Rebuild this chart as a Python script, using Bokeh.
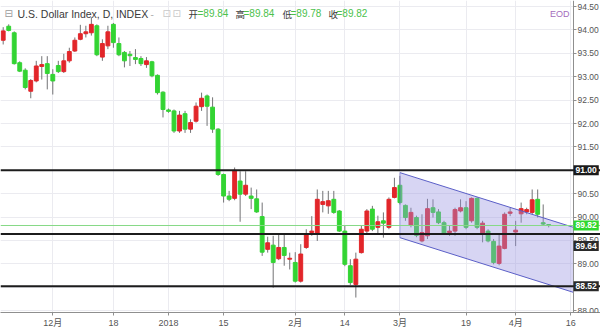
from bokeh.plotting import figure
from bokeh.models import (ColumnDataSource, FixedTicker, NumeralTickFormatter,
                          Span, Label, Range1d, LinearAxis, BoxAnnotation)
from bokeh.embed import file_html
from bokeh.resources import INLINE

# Daily bars of the U.S. Dollar Index (one entry per trading day)
opens = [93.78, 94.08, 93.94, 93.30, 93.14, 92.69, 92.91, 93.22, 93.28, 93.05,
         93.24, 93.11, 93.34, 93.55, 93.80, 93.92, 93.94, 94.09, 93.42, 93.66,
         94.12, 93.71, 93.52, 93.48, 93.41, 93.39, 93.26, 93.32, 93.03, 92.67,
         92.29, 92.27, 91.84, 92.21, 91.88, 92.05, 92.36, 92.59, 92.35, 91.88,
         90.91, 90.45, 90.40, 90.77, 90.49, 90.45, 90.39, 90.01, 89.31, 89.40,
         89.11, 89.35, 89.10, 89.03, 88.63, 89.35, 89.67, 89.63, 90.27, 90.24,
         90.38, 90.13, 89.70, 88.96, 88.56, 89.24, 89.70, 90.17, 89.78, 89.92,
         89.78, 90.42, 90.68, 90.25, 89.82, 89.99, 89.49, 89.60, 90.20, 90.11,
         89.88, 89.67, 89.70, 90.13, 90.20, 89.92, 90.40, 89.65, 89.70, 89.48,
         89.01, 89.33, 90.08, 89.68, 90.07, 90.11, 90.10, 90.38, 89.88, 89.84]
highs = [94.06, 94.12, 93.97, 93.33, 93.18, 92.95, 93.34, 93.44, 93.44, 93.16,
         93.34, 93.49, 93.62, 93.84, 94.11, 94.09, 94.27, 94.12, 93.80, 94.09,
         94.15, 93.84, 93.55, 93.55, 93.59, 93.44, 93.42, 93.34, 93.05, 92.69,
         92.32, 92.30, 92.27, 92.27, 92.09, 92.45, 92.66, 92.62, 92.56, 91.90,
         90.93, 90.56, 91.06, 90.98, 90.98, 90.63, 90.59, 90.31, 89.58, 89.60,
         89.63, 89.63, 89.24, 89.25, 89.42, 89.74, 90.02, 90.59, 90.56, 90.56,
         90.56, 90.15, 89.81, 89.10, 89.24, 89.81, 90.17, 90.24, 90.03, 90.10,
         90.42, 90.84, 90.88, 90.27, 90.20, 90.03, 90.06, 90.39, 90.38, 90.17,
         89.92, 89.81, 90.20, 90.38, 90.34, 90.42, 90.42, 89.92, 89.74, 89.53,
         89.63, 90.10, 90.20, 89.92, 90.31, 90.20, 90.59, 90.59, 90.27, 89.84]
lows = [93.69, 93.97, 93.26, 93.10, 92.73, 92.54, 92.88, 92.94, 92.73, 92.62,
        93.08, 93.08, 93.30, 93.53, 93.78, 93.84, 93.88, 93.44, 93.34, 93.59,
        93.62, 93.44, 93.20, 93.23, 93.27, 93.23, 93.19, 92.99, 92.62, 92.13,
        92.23, 91.80, 91.80, 91.80, 91.80, 92.02, 92.27, 91.95, 91.80, 90.88,
        90.31, 90.34, 90.36, 89.90, 90.45, 90.17, 90.09, 89.17, 89.24, 88.49,
        89.08, 88.96, 88.88, 88.60, 88.60, 89.32, 89.60, 89.49, 90.10, 90.07,
        90.07, 89.68, 88.95, 88.55, 88.28, 89.22, 89.63, 89.70, 89.63, 89.56,
        89.74, 90.40, 90.27, 89.92, 89.78, 89.57, 89.46, 89.53, 89.99, 89.85,
        89.63, 89.60, 89.60, 90.10, 89.74, 89.88, 89.74, 89.46, 89.46, 88.99,
        88.97, 89.31, 90.02, 89.38, 89.88, 90.06, 90.06, 89.99, 89.81, 89.78]
closes = [93.98, 93.99, 93.28, 93.12, 92.77, 92.92, 93.23, 93.26, 93.07, 92.91,
          93.11, 93.34, 93.54, 93.78, 93.92, 93.96, 94.12, 93.47, 93.71, 93.96,
          93.73, 93.47, 93.34, 93.45, 93.37, 93.28, 93.34, 93.02, 92.66, 92.30,
          92.26, 91.84, 92.18, 91.88, 92.02, 92.37, 92.54, 92.37, 91.88, 90.91,
          90.45, 90.38, 91.00, 90.49, 90.68, 90.40, 90.11, 89.25, 89.45, 89.03,
          89.35, 89.18, 89.12, 88.63, 89.21, 89.63, 89.70, 90.38, 90.33, 90.35,
          90.10, 89.70, 88.99, 88.60, 89.10, 89.74, 90.13, 89.74, 89.90, 89.87,
          90.38, 90.63, 90.31, 89.99, 90.10, 89.61, 89.67, 90.18, 90.10, 89.88,
          89.65, 89.70, 90.16, 90.20, 89.78, 90.40, 89.78, 89.87, 89.49, 89.03,
          89.38, 90.06, 90.11, 89.72, 90.18, 90.16, 90.37, 90.06, 89.85, 89.82]

# Date axis: bar positions that carry a label
x_tick_pos = [9, 20, 30, 40, 53, 62, 72, 84, 93, 103]
x_tick_labels = ["12月", "18", "2018", "15", "2月", "14", "3月", "19", "4月", "16"]

# Price axis
y_ticks = [88.0, 88.5, 89.0, 89.5, 90.0, 90.5, 91.0, 91.5, 92.0, 92.5, 93.0,
           93.5, 94.0, 94.5]

# Horizontal support / resistance levels
levels = [91.00, 89.64, 88.52]

# Descending channel drawn from March onwards (bar position, upper, lower)
channel_x = [72.0, 103.5]
channel_upper = [90.95, 89.78]
channel_lower = [89.56, 88.39]

UP = "#e2262a"
DOWN = "#33d433"
WICK = "#737375"

X_START, X_END = -0.49, 108.4
AXIS_X = 103.5          # bar position where the price scale sits

n = len(opens)
src = ColumnDataSource(dict(
    x=list(range(n)), o=opens, h=highs, l=lows, c=closes,
    top=[max(o, c) for o, c in zip(opens, closes)],
    bottom=[min(o, c) for o, c in zip(opens, closes)],
    color=[UP if c >= o else DOWN for o, c in zip(opens, closes)],
))

p = figure(width=600, height=330,
           x_range=Range1d(X_START, X_END), y_range=Range1d(87.96, 94.63),
           y_axis_location=None, output_backend="svg", toolbar_location=None,
           min_border_left=0, min_border_top=0, min_border_right=0,
           min_border_bottom=0, outline_line_color=None,
           background_fill_color="white", border_fill_color="white")

# grid
p.xgrid.ticker = FixedTicker(ticks=x_tick_pos)
p.ygrid.ticker = FixedTicker(ticks=y_ticks)
p.grid.grid_line_color = "#ebebf0"
p.grid.grid_line_width = 1
# keep the price-scale strip clean
p.add_layout(BoxAnnotation(left=AXIS_X, fill_color="white", fill_alpha=1,
                           line_color=None, level="underlay"))

# price scale drawn at the right edge of the bars area
yaxis = LinearAxis(fixed_location=AXIS_X, ticker=FixedTicker(ticks=y_ticks),
                   formatter=NumeralTickFormatter(format="0.00"))
p.add_layout(yaxis, "right")

p.xaxis.ticker = FixedTicker(ticks=x_tick_pos)
p.xaxis.major_label_overrides = {k: v for k, v in zip(x_tick_pos, x_tick_labels)}
for ax in (p.xaxis[0], yaxis):
    ax.axis_line_color = "#8f8f8f"
    ax.major_tick_line_color = "#8f8f8f"
    ax.major_tick_out = 3
    ax.major_tick_in = 0
    ax.minor_tick_line_color = None
    ax.major_label_text_color = "#555555"
    ax.major_label_text_font = "Liberation Sans, Noto Sans CJK SC"
p.xaxis.major_label_text_font_size = "9px"
p.xaxis.major_label_standoff = 2
yaxis.major_label_text_font_size = "8.5px"
yaxis.major_label_standoff = 1

# candles
p.segment(x0="x", y0="l", x1="x", y1="h", source=src, line_color=WICK, line_width=1)
p.vbar(x="x", width=0.7, top="top", bottom="bottom", source=src,
       fill_color="color", line_color="color", line_width=1)

# last price line
p.add_layout(Span(location=closes[-1], dimension="width", line_color="#86d986",
                  line_width=1))

# level lines
for lv in levels:
    p.add_layout(Span(location=lv, dimension="width", line_color="#1c1c1c",
                      line_width=2))

# channel
p.patch(x=channel_x + channel_x[::-1], y=channel_upper + channel_lower[::-1],
        fill_color="#9c96e0", fill_alpha=0.4, line_color=None)
p.line(x=channel_x, y=channel_upper, line_color="#5b5fc7", line_width=1)
p.line(x=channel_x, y=channel_lower, line_color="#5b5fc7", line_width=1)
p.line(x=[channel_x[0], channel_x[0]], y=[channel_upper[0], channel_lower[0]],
       line_color="#5b5fc7", line_width=1, line_alpha=0.5)

# price tags on the scale
tags = [(levels[0], "#1a1a1a", 0),
        (closes[-1], "#2fd82f", 0),
        (levels[1], "#2a2a2a", -12),
        (levels[2], "#2a2a2a", 0)]
for val, bg, dy in tags:
    p.add_layout(Label(x=AXIS_X, y=val, x_offset=0, y_offset=dy, text=f"{val:.2f}",
                       text_font_size="8.5px", text_font="Liberation Sans",
                       text_color="white", text_font_style="bold",
                       text_align="left", text_baseline="middle",
                       background_fill_color=bg, padding=2))

# header line
H = 314 - 15
LAB = "#3a3a3a"
GREEN = "#4cc14c"
head = [
    (4, "⊟", "#9a9a9a", "DejaVu Sans", "10px"),
    (17, "U.S. Dollar Index, D, INDEX", LAB, "Liberation Sans", "10.5px"),
    (150, "-", "#b0b0b0", "Liberation Sans", "10px"),
    (162, "⊡", "#c8c8c8", "DejaVu Sans", "10px"),
    (172, "⊡", "#c8c8c8", "DejaVu Sans", "10px"),
    (188, "开", LAB, "Noto Sans CJK SC", "9.5px"),
    (197, f"={opens[-1]:.2f}", GREEN, "Liberation Sans", "10px"),
    (235, "高", LAB, "Noto Sans CJK SC", "9.5px"),
    (243, f"={highs[-1]:.2f}", GREEN, "Liberation Sans", "10px"),
    (282, "低", LAB, "Noto Sans CJK SC", "9.5px"),
    (290, f"={lows[-1]:.2f}", GREEN, "Liberation Sans", "10px"),
    (328, "收", LAB, "Noto Sans CJK SC", "9.5px"),
    (336, f"={closes[-1]:.2f}", GREEN, "Liberation Sans", "10px"),
]
for x, t, col, font, size in head:
    p.add_layout(Label(x=x, y=H, x_units="screen", y_units="screen", text=t,
                       text_color=col, text_font=font, text_font_size=size,
                       text_baseline="middle", text_align="left"))
p.add_layout(Label(x=569, y=H, x_units="screen", y_units="screen", text="EOD",
                   text_color="#a46cbc", text_font="Liberation Sans",
                   text_font_size="9px", text_baseline="middle", text_align="right"))

open("out.html", "w").write(file_html(p, INLINE))
